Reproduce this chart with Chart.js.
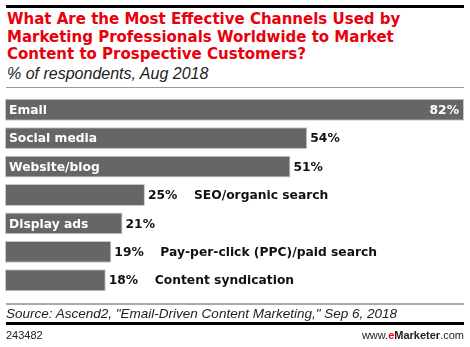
<!DOCTYPE html>
<html>
<head>
<meta charset="utf-8">
<script src="https://cdn.jsdelivr.net/npm/chart.js@4"></script>
<style>
  html, body { margin: 0; padding: 0; background: #fff; }
  #wrap { position: relative; width: 470px; height: 347px; overflow: hidden; font-family: "Liberation Sans", Arial, sans-serif; }
  #chart { position: absolute; left: 0; top: 0; }
  .rule { position: absolute; left: 6px; width: 458px; }
  #title { position: absolute; left: 7px; top: 11px; font-family: "DejaVu Sans", Verdana, sans-serif; font-weight: bold; font-size: 15px; line-height: 17.7px; color: #e8000b; white-space: nowrap; }
  #subtitle { position: absolute; left: 7px; top: 64.5px; font-style: italic; font-size: 16px; line-height: 17px; color: #222; white-space: nowrap; }
  #source { position: absolute; left: 6px; top: 305.5px; font-style: italic; font-size: 13.5px; line-height: 15px; color: #222; white-space: nowrap; }
  #code { position: absolute; left: 6px; top: 328.5px; font-size: 11px; line-height: 13px; color: #222; }
  #site { position: absolute; right: 6px; top: 328.5px; font-size: 11px; line-height: 13px; color: #222; }
  #site b { font-weight: bold; }
  #site .e { color: #e8000b; }
</style>
</head>
<body>
<div id="wrap">
  <div class="rule" style="top:5px;height:3px;background:#000"></div>
  <div id="title">What Are the Most Effective Channels Used by<br>Marketing Professionals Worldwide to Market<br>Content to Prospective Customers?</div>
  <div id="subtitle">% of respondents, Aug 2018</div>
  <div class="rule" style="top:87px;height:1px;background:#999"></div>
  <canvas id="chart" width="470" height="347"></canvas>
  <div class="rule" style="top:303px;height:2px;background:#aaa"></div>
  <div id="source">Source: Ascend2, "Email-Driven Content Marketing," Sep 6, 2018</div>
  <div class="rule" style="top:322px;height:3px;background:#000"></div>
  <div id="code">243482</div>
  <div id="site">www.<b class="e">e</b><b>Marketer</b>.com</div>
</div>
<script>
// Data
const channels = [
  'Email', 'Social media', 'Website/blog', 'SEO/organic search',
  'Display ads', 'Pay-per-click (PPC)/paid search', 'Content syndication',
];
const shares = [82, 54, 51, 25, 21, 19, 18];

const BAR_COLOR = '#666666';
const LABEL_FONT = 'bold 12.3px "DejaVu Sans", Verdana, sans-serif';

// Draws category names and values on / next to the bars
const barLabels = {
  id: 'barLabels',
  afterDatasetsDraw(chart) {
    const ctx = chart.ctx;
    const meta = chart.getDatasetMeta(0);
    const max = Math.max(...shares);
    ctx.save();
    ctx.font = LABEL_FONT;
    ctx.textBaseline = 'middle';
    meta.data.forEach((bar, i) => {
      const name = channels[i];
      const val = shares[i] + '%';
      const y = bar.y + 1;
      const width = bar.x - bar.base;
      const nameInside = ctx.measureText(name).width + 10 < width;
      if (shares[i] === max) {
        ctx.fillStyle = '#fff';
        ctx.textAlign = 'right';
        ctx.fillText(val, bar.x - 5, y);
      } else {
        ctx.fillStyle = '#111';
        ctx.textAlign = 'left';
        ctx.fillText(val, bar.x + 3, y);
      }
      ctx.textAlign = 'left';
      if (nameInside) {
        ctx.fillStyle = '#fff';
        ctx.fillText(name, bar.base + 4, y);
      } else {
        ctx.fillStyle = '#111';
        ctx.fillText(name, bar.x + 49, y);
      }
    });
    ctx.restore();
  },
};

new Chart(document.getElementById('chart'), {
  type: 'bar',
  data: {
    labels: channels,
    datasets: [{
      data: shares,
      backgroundColor: BAR_COLOR,
      borderColor: '#c8c8c8',
      borderWidth: 1,
      borderSkipped: false,
      categoryPercentage: 1,
      barPercentage: 0.77,
    }],
  },
  options: {
    indexAxis: 'y',
    responsive: false,
    animation: false,
    events: [],
    layout: { padding: { left: 5, right: 6, top: 95.5, bottom: 52.5 } },
    plugins: { legend: { display: false }, title: { display: false }, tooltip: { enabled: false } },
    scales: {
      x: { display: false, min: 0, max: 82 },
      y: { display: false },
    },
  },
  plugins: [barLabels],
});
</script>
</body>
</html>
